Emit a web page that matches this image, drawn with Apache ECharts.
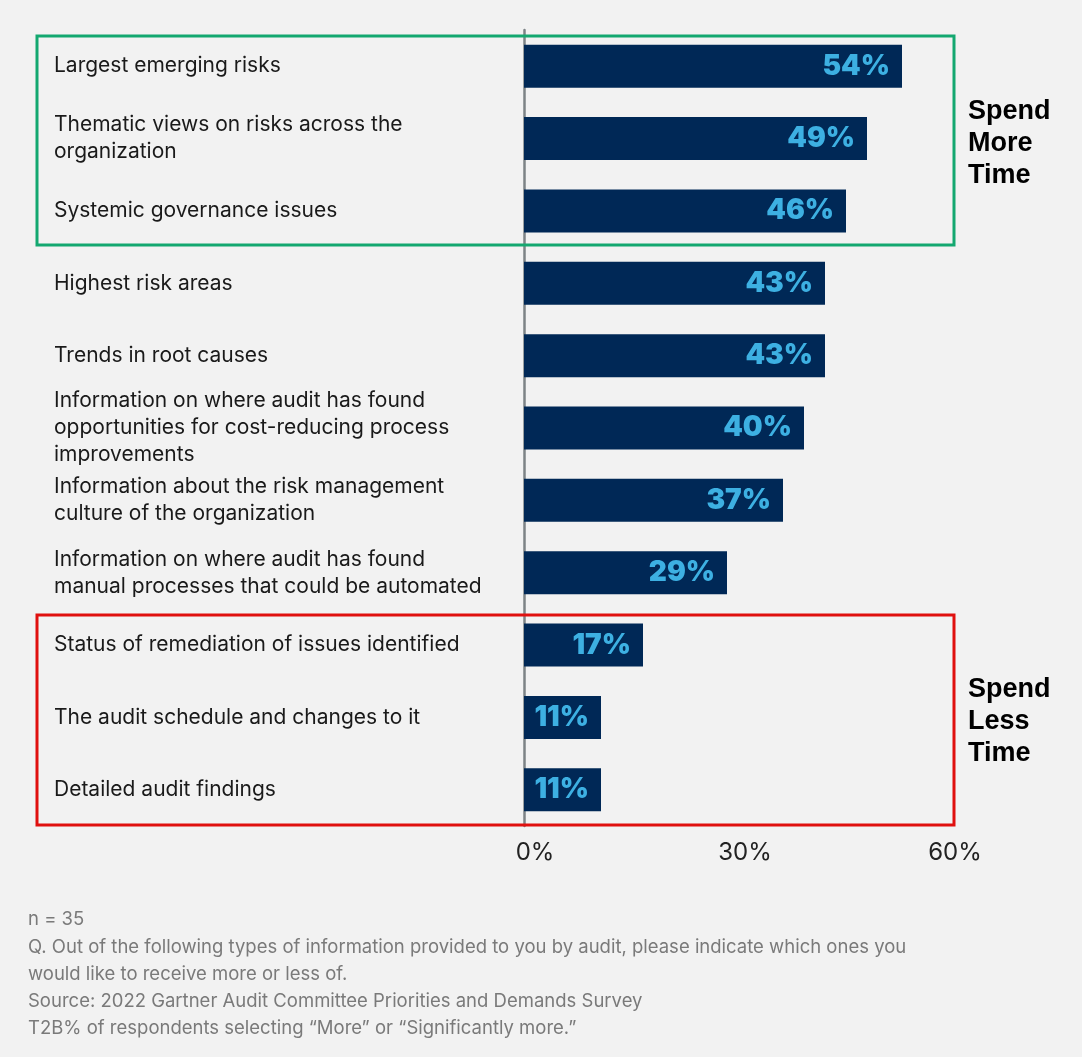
<!DOCTYPE html>
<html>
<head>
<meta charset="utf-8">
<script src="https://cdn.jsdelivr.net/npm/echarts@6/dist/echarts.min.js"></script>
<style>
html,body{margin:0;padding:0;background:#f2f2f2;}
#chart{width:1082px;height:1057px;}
</style>
</head>
<body>
<div id="chart"></div>
<script>
const categories = [
  "Largest emerging risks",
  "Thematic views on risks across the\norganization",
  "Systemic governance issues",
  "Highest risk areas",
  "Trends in root causes",
  "Information on where audit has found\nopportunities for cost-reducing process\nimprovements",
  "Information about the risk management\nculture of the organization",
  "Information on where audit has found\nmanual processes that could be automated",
  "Status of remediation of issues identified",
  "The audit schedule and changes to it",
  "Detailed audit findings"
];
const values = [54, 49, 46, 43, 43, 40, 37, 29, 17, 11, 11];
const xTicks = [0, 30, 60];
const moreLabel = "Spend\nMore\nTime";
const lessLabel = "Spend\nLess\nTime";
const footnotes = [
  "n = 35",
  "Q. Out of the following types of information provided to you by audit, please indicate which ones you",
  "would like to receive more or less of.",
  "Source: 2022 Gartner Audit Committee Priorities and Demands Survey",
  "T2B% of respondents selecting \u201cMore\u201d or \u201cSignificantly more.\u201d"
];

const chart = echarts.init(document.getElementById('chart'));
const option = {
  backgroundColor: '#f2f2f2',
  animation: false,
  grid: {left: 524, right: 138, top: 30, bottom: 231, containLabel: false},
  xAxis: {
    type: 'value', min: xTicks[0], max: xTicks[xTicks.length - 1], interval: 30,
    splitLine: {show: false}, axisLine: {show: false}, axisTick: {show: false},
    axisLabel: {
      formatter: v => v + '%', margin: 15, padding: [0, 0, 0, 22],
      fontFamily: 'Inter', fontSize: 24, color: '#222'
    }
  },
  yAxis: {
    type: 'category', data: categories, inverse: true,
    axisLine: {show: true, lineStyle: {color: '#7d8386', width: 2.5}},
    axisTick: {show: false},
    axisLabel: {
      align: 'left', margin: 470, fontFamily: 'Inter', fontSize: 21,
      lineHeight: 27, color: '#1a1a1a'
    }
  },
  series: [{
    type: 'bar', data: values, barWidth: 43,
    itemStyle: {color: '#002856'},
    label: {
      show: true, position: 'insideRight', distance: 12,
      formatter: p => p.value + '%',
      fontFamily: 'Inter', fontWeight: 900, fontSize: 28, color: '#3db0e2'
    },
    z: 1
  }],
  graphic: [
    {type: 'rect', shape: {x: 37, y: 36, width: 917, height: 209},
     style: {fill: 'none', stroke: '#14a870', lineWidth: 3}, z: 10},
    {type: 'rect', shape: {x: 37, y: 615, width: 917, height: 210},
     style: {fill: 'none', stroke: '#e0100f', lineWidth: 3}, z: 10},
    {type: 'text', left: 968, top: 96,
     style: {text: moreLabel, font: 'bold 27px "Liberation Sans"', lineHeight: 32, fill: '#000'}},
    {type: 'text', left: 968, top: 674,
     style: {text: lessLabel, font: 'bold 27px "Liberation Sans"', lineHeight: 32, fill: '#000'}},
    {type: 'text', left: 28, top: 906,
     style: {text: footnotes.join('\n'), font: '18.5px Inter', lineHeight: 27.3, fill: '#7a7a7a'}}
  ]
};
chart.setOption(option);
</script>
</body>
</html>
